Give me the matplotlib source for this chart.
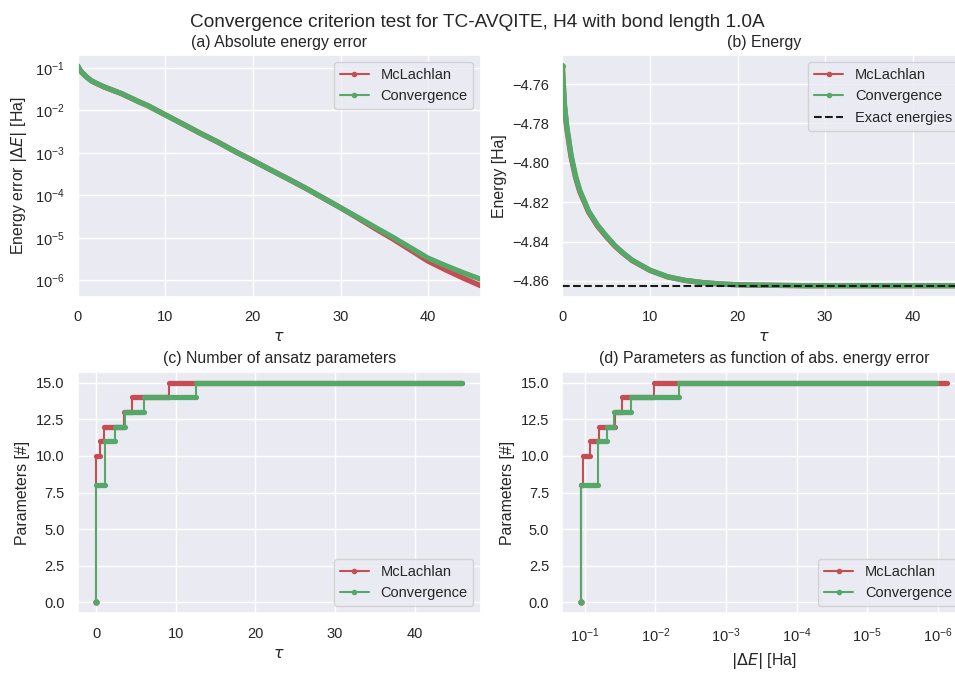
import numpy as np
import matplotlib
matplotlib.use("Agg")
import matplotlib.pyplot as plt
from matplotlib.lines import Line2D
import seaborn as sns

sns.set_theme(style="darkgrid", color_codes=True)
plt.rcParams['font.family'] = ['Liberation Sans', 'DejaVu Sans']

# imaginary time grid and values
tau = [0, 0.25, 0.5, 1, 1.5, 2, 3, 4, 5, 6, 7, 8, 10, 12, 14, 16, 18, 20,
       22, 24, 26, 28, 30, 32, 34, 36, 38, 40, 42, 44, 46]

# (a) absolute energy error [Ha]
err_mcl = [0.112, 0.091, 0.078, 0.062, 0.051, 0.045, 0.036, 0.030, 0.025, 0.020,
           0.016, 0.013, 0.0079, 0.0048, 0.0029, 0.0018, 0.00107, 6.6e-4,
           4.0e-4, 2.45e-4, 1.48e-4, 8.7e-5, 5.1e-5, 2.9e-5, 1.62e-5, 9.3e-6,
           5.1e-6, 2.8e-6, 1.75e-6, 1.12e-6, 7.4e-7]
err_conv = [0.112, 0.091, 0.078, 0.062, 0.051, 0.045, 0.036, 0.030, 0.025, 0.020,
            0.016, 0.013, 0.0079, 0.0048, 0.0029, 0.0018, 0.00107, 6.6e-4,
            4.0e-4, 2.45e-4, 1.48e-4, 8.7e-5, 5.1e-5, 3.0e-5, 1.74e-5, 1.02e-5,
            5.8e-6, 3.3e-6, 2.2e-6, 1.5e-6, 1.05e-6]

# (b) energy [Ha]
en_mcl = [-4.7508, -4.7715, -4.7822, -4.7970, -4.8072, -4.8147, -4.8250, -4.8320,
          -4.8374, -4.8423, -4.8462, -4.8497, -4.8546, -4.8579, -4.8597, -4.8608,
          -4.8615, -4.8619, -4.8621, -4.8622, -4.8623, -4.8624, -4.8624, -4.8624,
          -4.8624, -4.8624, -4.8624, -4.8624, -4.8624, -4.8624, -4.8624]
en_conv = [-4.7508, -4.7705, -4.7810, -4.7960, -4.8065, -4.8140, -4.8245, -4.8315,
           -4.8370, -4.8420, -4.8460, -4.8495, -4.8545, -4.8578, -4.8597, -4.8608,
           -4.8615, -4.8619, -4.8621, -4.8622, -4.8623, -4.8624, -4.8624, -4.8624,
           -4.8624, -4.8624, -4.8624, -4.8624, -4.8624, -4.8624, -4.8624]
exact_energy = -4.8625

# (c) number of parameters, change points in tau
tau_steps_mcl = [0.0, 0.02, 0.05, 0.45, 0.95, 3.55, 4.55, 9.15, 46.0]
par_steps_mcl = [0, 8, 10, 11, 12, 13, 14, 15, 15]
tau_steps_conv = [0.0, 0.02, 1.1, 2.35, 3.6, 6.0, 12.5, 46.0]
par_steps_conv = [0, 8, 11, 12, 13, 14, 15, 15]

# (d) same change points as function of |dE|
err_steps_mcl = [0.115, 0.113, 0.107, 0.084, 0.063, 0.038, 0.030, 0.0106, 7.4e-7]
err_steps_conv = [0.115, 0.113, 0.065, 0.048, 0.039, 0.0224, 0.0047, 1.05e-6]

red = 'r'
green = 'g'
fs_title = 11.4
fs_label = 11.4
fs_tick = 10.5
fs_leg = 10.5
band = 3.8  # dense markers look like a thick band

fig = plt.figure(figsize=(9.55, 6.77), dpi=100)
W, H = 955, 677
def add(x0, y0):
    return fig.add_axes([x0 / W, 1 - (y0 + 241.7) / H, 403.0 / W, 241.7 / H])

ax_a = add(77.7, 55)
ax_b = add(562.3, 55)
ax_c = add(77.7, 371.7)
ax_d = add(562.3, 371.7)

def proxies(extra=False):
    h = [Line2D([], [], color=red, marker='.', lw=1.5, label='McLachlan'),
         Line2D([], [], color=green, marker='.', lw=1.5, label='Convergence')]
    if extra:
        h.append(Line2D([], [], color='k', ls='--', lw=1.5, label='Exact energies'))
    return h

# (a)
ax_a.plot(tau, err_mcl, color=red, lw=band, solid_capstyle='round', solid_joinstyle='round')
ax_a.plot(tau, err_conv, color=green, lw=band, solid_capstyle='round', solid_joinstyle='round')
ax_a.set_yscale('log')
ax_a.set_xlim(0, 46)
ax_a.set_title('(a) Absolute energy error', fontsize=fs_title)
ax_a.set_xlabel(r'$\tau$', fontsize=fs_label)
ax_a.set_ylabel(r'Energy error $|\Delta E|$ [Ha]', fontsize=fs_label)
ax_a.legend(handles=proxies(), loc='upper right', fontsize=fs_leg)

# (b)
ax_b.plot(tau, en_mcl, color=red, lw=band, solid_capstyle='round', solid_joinstyle='round')
ax_b.plot(tau, en_conv, color=green, lw=band, solid_capstyle='round', solid_joinstyle='round')
ax_b.plot(tau[0], en_conv[0], '.', color=green, ms=8)
ax_b.axhline(exact_energy, color='k', ls='--', lw=1.5)
ax_b.set_xlim(0, 46)
ax_b.set_title('(b) Energy', fontsize=fs_title)
ax_b.set_xlabel(r'$\tau$', fontsize=fs_label)
ax_b.set_ylabel('Energy [Ha]', fontsize=fs_label)
ax_b.legend(handles=proxies(True), loc='upper right', fontsize=fs_leg)

# (c) and (d)
def steps(ax, x_m, y_m, x_c, y_c):
    for x, y, c in ((x_m, y_m, red), (x_c, y_c, green)):
        ax.plot(x, y, color=c, lw=1.5, drawstyle='steps-post')
        ax.hlines(y[:-1], x[:-1], x[1:], colors=c, lw=band, capstyle='round')
        ax.plot(x[0], y[0], '.', color=c, ms=7)
    ax.legend(handles=proxies(), loc='lower right', fontsize=fs_leg)
    ax.set_ylabel('Parameters [#]', fontsize=fs_label)

steps(ax_c, tau_steps_mcl, par_steps_mcl, tau_steps_conv, par_steps_conv)
ax_c.set_title('(c) Number of ansatz parameters', fontsize=fs_title)
ax_c.set_xlabel(r'$\tau$', fontsize=fs_label)

steps(ax_d, err_steps_mcl, par_steps_mcl, err_steps_conv, par_steps_conv)
ax_d.set_xscale('log')
ax_d.invert_xaxis()
ax_d.set_title('(d) Parameters as function of abs. energy error', fontsize=fs_title)
ax_d.set_xlabel(r'$|\Delta E|$ [Ha]', fontsize=fs_label)

for ax in (ax_a, ax_b, ax_c, ax_d):
    ax.tick_params(labelsize=fs_tick)

fig.suptitle('Convergence criterion test for TC-AVQITE, H4 with bond length 1.0A',
             fontsize=13.7, y=0.979)

fig.savefig('out.png', dpi=100)
